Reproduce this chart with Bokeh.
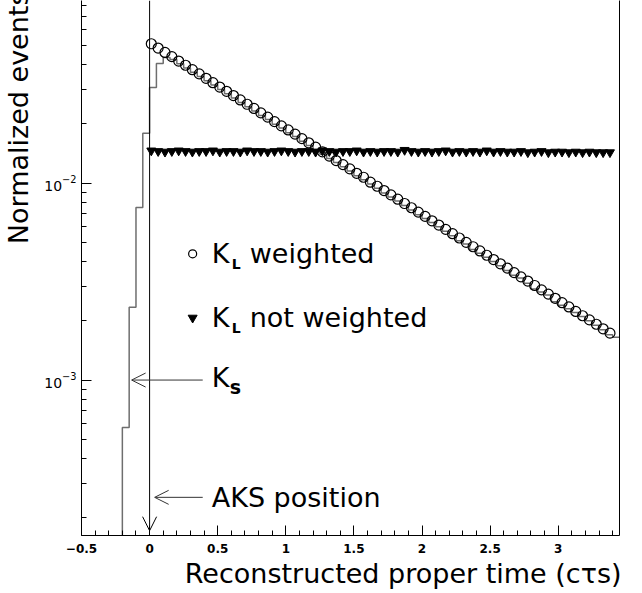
import numpy as np
from bokeh.plotting import figure
from bokeh.models import (FixedTicker, Label, Arrow, OpenHead, LogAxis, Title)
from bokeh.embed import file_html
from bokeh.resources import INLINE

# ---------------- data ----------------
# histogram (K_S + K_L), bins of 0.05 starting at -0.25
hist_start = -0.25
hist_width = 0.05
hist_values = [1e-6, 5.74e-4, 2.34e-3, 7.51e-3, 1.79e-2, 3.05e-2, 4.04e-2, 4.34e-2,
               0.0424, 0.0403, 0.0384, 0.0365, 0.0347, 0.0330, 0.0314, 0.0298, 0.0284, 0.0270,
               0.0256, 0.0244, 0.0232, 0.0220, 0.0210, 0.0199, 0.0190, 0.0180, 0.0172, 0.0163,
               0.0155, 0.0148, 0.0140, 0.0133, 0.0127, 0.0121, 0.0115, 0.0109, 0.0104, 0.0099,
               0.0094, 0.0089, 0.0085, 0.0081, 0.0077, 0.0073, 0.0069, 0.0066, 0.0063, 0.0060,
               0.0057, 0.0054, 0.0051, 0.0049, 0.0046, 0.0044, 0.0042, 0.0040, 0.0038, 0.0036,
               0.0034, 0.0033, 0.0031, 0.0029, 0.0028, 0.0027, 0.0025, 0.0024, 0.0023, 0.0022,
               0.0021, 0.0020, 0.0019, 0.0018, 0.0017, 0.00165]

# K_L weighted (open circles)
kl_weighted = [0.0509, 0.0484, 0.0460, 0.0438, 0.0416, 0.0396, 0.0376, 0.0358, 0.0340, 0.0323,
               0.0307, 0.0292, 0.0278, 0.0264, 0.0251, 0.0239, 0.0227, 0.0216, 0.0205, 0.0195,
               0.0186, 0.0177, 0.0168, 0.0160, 0.0152, 0.0144, 0.0137, 0.0130, 0.0124, 0.0118,
               0.0112, 0.0107, 0.0101, 0.00963, 0.00916, 0.00871, 0.00828, 0.00787, 0.00749, 0.00712,
               0.00677, 0.00643, 0.00612, 0.00582, 0.00553, 0.00526, 0.00500, 0.00475, 0.00452, 0.00430,
               0.00409, 0.00389, 0.00370, 0.00351, 0.00334, 0.00318, 0.00302, 0.00287, 0.00273, 0.00260,
               0.00247, 0.00235, 0.00223, 0.00212, 0.00202, 0.00192, 0.00182, 0.00173]

# K_L not weighted (filled down triangles)
kl_not_weighted = [0.0146, 0.0145, 0.0144, 0.0145, 0.0146, 0.0145, 0.0144, 0.0145, 0.0145, 0.0146,
                   0.0144, 0.0145, 0.0145, 0.0144, 0.0146, 0.0145, 0.0145, 0.0144, 0.0145, 0.0146,
                   0.0145, 0.0144, 0.0145, 0.0145, 0.0144, 0.0146, 0.0145, 0.0144, 0.0145, 0.0145,
                   0.0146, 0.0144, 0.0145, 0.0144, 0.0145, 0.0145, 0.0144, 0.0147, 0.0145, 0.0144,
                   0.0145, 0.0144, 0.0145, 0.0146, 0.0144, 0.0145, 0.0144, 0.0145, 0.0144, 0.0146,
                   0.0144, 0.0145, 0.0144, 0.0144, 0.0145, 0.0143, 0.0144, 0.0145, 0.0143, 0.0144,
                   0.0144, 0.0143, 0.0144, 0.0143, 0.0144, 0.0143, 0.0143, 0.0143]
points_first = 0.0125
points_last = 3.38

x_ticks = [-0.5, 0, 0.5, 1, 1.5, 2, 2.5, 3]
y_ticks = [1e-3, 1e-2]

x_min, x_max = -0.5, 3.45
y_min, y_max = 1.626e-4, 0.0844

FONT = "DejaVu Sans"

# ---------------- figure ----------------
p = figure(width=642, height=593, x_range=(x_min, x_max), y_range=(y_min, y_max),
           y_axis_type="log", output_backend="svg", toolbar_location=None,
           min_border_left=81, min_border_right=23, min_border_top=0, min_border_bottom=58)
p.outline_line_color = None
p.grid.visible = False
p.background_fill_color = "white"

# axes
xa = p.xaxis[0]
xa.ticker = FixedTicker(ticks=x_ticks, minor_ticks=[round(-0.5 + 0.1 * i, 2) for i in range(40)])
xa.major_tick_in = 10
xa.major_tick_out = 0
xa.minor_tick_in = 5
xa.minor_tick_out = 0
xa.major_label_text_font = FONT
xa.major_label_text_font_style = "bold"
xa.major_label_text_font_size = "12px"
xa.major_label_text_color = "black"
xa.major_label_standoff = 8
xa.axis_line_color = "black"
xa.major_tick_line_color = "black"
xa.minor_tick_line_color = "black"
xa.major_label_overrides = {-0.5: "\u22120.5"}

ya = p.yaxis[0]
minor_y = [m * 10.0 ** e for e in (-4, -3, -2) for m in range(2, 10) if y_min < m * 10.0 ** e < y_max]
ya.ticker = FixedTicker(ticks=y_ticks, minor_ticks=minor_y)
ya.major_tick_in = 10
ya.major_tick_out = 0
ya.minor_tick_in = 5
ya.minor_tick_out = 0
ya.major_label_text_font = FONT
ya.major_label_text_font_size = "14px"
ya.major_label_text_color = "black"
ya.major_label_standoff = 5
ya.axis_line_color = "black"
ya.major_tick_line_color = "black"
ya.minor_tick_line_color = "black"
# invisible spacer label to keep the title at the far left
ya.axis_label = " "
ya.axis_label_text_font_size = "1px"
ya.axis_label_standoff = 4

right = LogAxis(ticker=FixedTicker(ticks=[]), major_tick_line_color=None,
                minor_tick_line_color=None, major_label_text_font_size="0px",
                axis_line_color="black")
p.add_layout(right, "right")

# axis titles
p.add_layout(Title(text="Reconstructed proper time (c\u03c4s)", align="right",
                   text_font=FONT, text_font_size="27px", text_font_style="normal",
                   text_color="black", standoff=0, offset=-2), "below")
p.add_layout(Title(text="Normalized events", align="right",
                   text_font=FONT, text_font_size="27px", text_font_style="normal",
                   text_color="black", standoff=0, offset=-9), "left")

# histogram
edges = [hist_start + hist_width * i for i in range(len(hist_values) + 1)]
p.step(x=edges, y=hist_values + [hist_values[-1]], mode="after",
       line_color="#6e6e6e", line_width=1.5)

# points
xs_w = np.linspace(points_first, points_last, len(kl_weighted))
xs_nw = np.linspace(points_first, points_last, len(kl_not_weighted))
p.scatter(xs_nw, kl_not_weighted, marker="inverted_triangle", size=9,
          fill_color="black", line_color="black", line_width=1)
p.scatter(xs_w, kl_weighted, marker="circle", size=10, fill_color=None,
          line_color="black", line_width=1.2)

# AKS vertical line with arrow
p.add_layout(Arrow(end=OpenHead(size=14, line_width=1, line_color="black"),
                   x_start=0, y_start=y_max, x_end=0, y_end=1.72e-4,
                   line_color="black", line_width=1))

# K_S arrow
p.add_layout(Arrow(end=OpenHead(size=14, line_width=1, line_color="#333333"),
                   x_start=0.39, y_start=1e-3, x_end=-0.132, y_end=1e-3,
                   line_color="#333333", line_width=1))
# AKS arrow
p.add_layout(Arrow(end=OpenHead(size=14, line_width=1, line_color="#333333"),
                   x_start=0.39, y_start=2.54e-4, x_end=0.037, y_end=2.54e-4,
                   line_color="#333333", line_width=1))


def lab(text, x, y, size, xo=0, yo=0, style="normal", align="left", baseline="middle"):
    p.add_layout(Label(x=x, y=y, x_offset=xo, y_offset=yo, text=text, text_font=FONT,
                       text_font_size=size, text_font_style=style, text_align=align,
                       text_baseline=baseline, text_color="black"))


tx = 0.456
# legend entries
p.scatter([0.316], [4.37e-3], marker="circle", size=8, fill_color=None, line_color="black", line_width=1.2)
lab("K", tx, 4.37e-3, "27px")
lab("L", tx, 4.37e-3, "14px", xo=20, yo=-10, style="bold")
lab("weighted", tx, 4.37e-3, "27px", xo=38)

p.scatter([0.316], [2.07e-3], marker="inverted_triangle", size=9, fill_color="black", line_color="black")
lab("K", tx, 2.07e-3, "27px")
lab("L", tx, 2.07e-3, "14px", xo=20, yo=-10, style="bold")
lab("not weighted", tx, 2.07e-3, "27px", xo=38)

# K_S and AKS
lab("K", tx, 1.03e-3, "27px")
lab("s", tx, 1.03e-3, "19px", xo=18, yo=-9, style="bold")
lab("AKS position", tx, 2.54e-4, "27px")

open("out.html", "w").write(file_html(p, INLINE))
